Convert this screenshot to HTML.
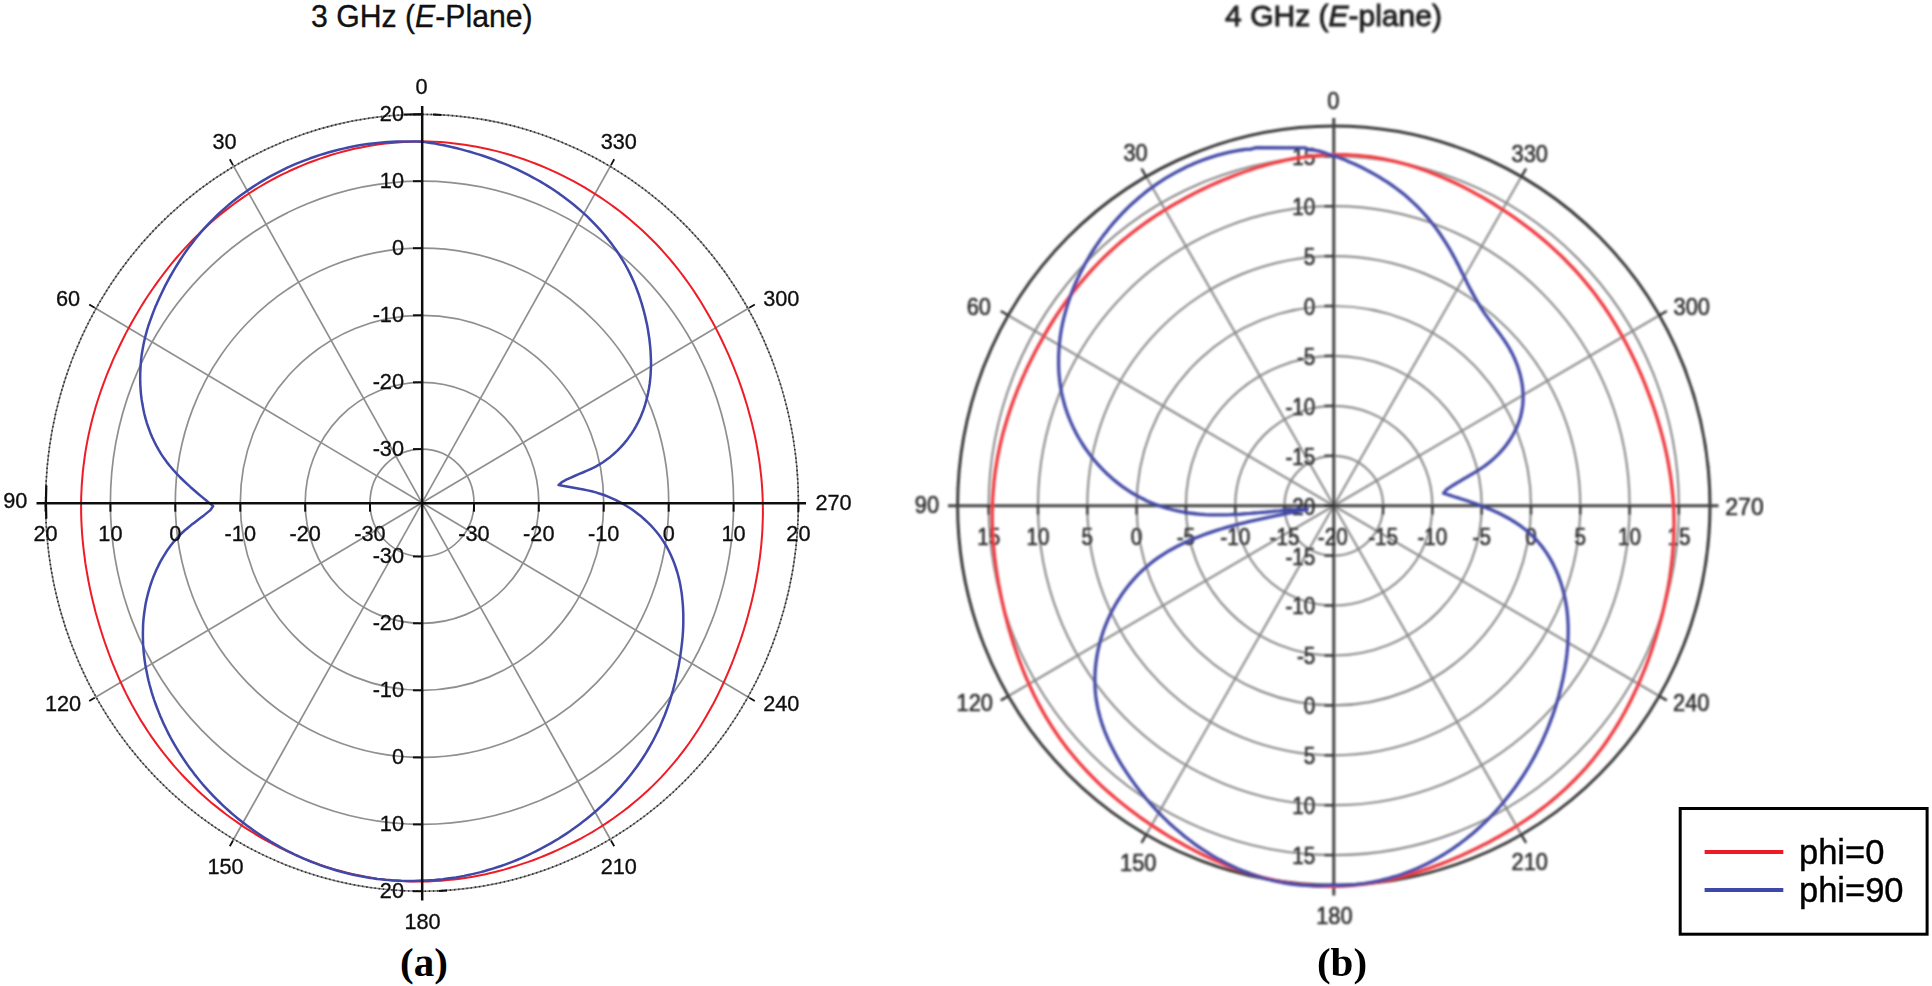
<!DOCTYPE html>
<html lang="en"><head><meta charset="utf-8"><title>Radiation patterns</title>
<style>html,body{margin:0;padding:0;background:#fff;overflow:hidden}svg{display:block}</style></head>
<body>
<svg width="1932" height="986" viewBox="0 0 1932 986">
<defs><filter id="bl" x="-2%" y="-2%" width="104%" height="104%"><feGaussianBlur stdDeviation="1.0"/></filter><filter id="bs" x="-2%" y="-2%" width="104%" height="104%"><feGaussianBlur stdDeviation="0.35"/></filter><clipPath id="rc"><rect x="890" y="0" width="874" height="986"/></clipPath></defs>
<rect width="1932" height="986" fill="#fff"/>
<g filter="url(#bs)">
<line x1="422.0" y1="502.8" x2="233.0" y2="165.1" stroke="#8f8f8f" stroke-width="1.7"/>
<line x1="233.0" y1="165.1" x2="229.8" y2="159.3" stroke="#111" stroke-width="1.8"/>
<line x1="422.0" y1="502.8" x2="94.7" y2="307.8" stroke="#8f8f8f" stroke-width="1.7"/>
<line x1="94.7" y1="307.8" x2="89.2" y2="304.5" stroke="#111" stroke-width="1.8"/>
<line x1="422.0" y1="502.8" x2="94.7" y2="697.8" stroke="#8f8f8f" stroke-width="1.7"/>
<line x1="94.7" y1="697.8" x2="89.2" y2="701.1" stroke="#111" stroke-width="1.8"/>
<line x1="422.0" y1="502.8" x2="233.0" y2="840.5" stroke="#8f8f8f" stroke-width="1.7"/>
<line x1="233.0" y1="840.5" x2="229.8" y2="846.3" stroke="#111" stroke-width="1.8"/>
<line x1="422.0" y1="502.8" x2="611.0" y2="840.5" stroke="#8f8f8f" stroke-width="1.7"/>
<line x1="611.0" y1="840.5" x2="614.2" y2="846.3" stroke="#111" stroke-width="1.8"/>
<line x1="422.0" y1="502.8" x2="749.3" y2="697.8" stroke="#8f8f8f" stroke-width="1.7"/>
<line x1="749.3" y1="697.8" x2="754.8" y2="701.1" stroke="#111" stroke-width="1.8"/>
<line x1="422.0" y1="502.8" x2="749.3" y2="307.8" stroke="#8f8f8f" stroke-width="1.7"/>
<line x1="749.3" y1="307.8" x2="754.8" y2="304.5" stroke="#111" stroke-width="1.8"/>
<line x1="422.0" y1="502.8" x2="611.0" y2="165.1" stroke="#8f8f8f" stroke-width="1.7"/>
<line x1="611.0" y1="165.1" x2="614.2" y2="159.3" stroke="#111" stroke-width="1.8"/>
<ellipse cx="422.0" cy="502.8" rx="311.6" ry="321.6" fill="none" stroke="#8f8f8f" stroke-width="1.7"/>
<ellipse cx="422.0" cy="502.8" rx="246.7" ry="254.6" fill="none" stroke="#8f8f8f" stroke-width="1.7"/>
<ellipse cx="422.0" cy="502.8" rx="181.7" ry="187.5" fill="none" stroke="#8f8f8f" stroke-width="1.7"/>
<ellipse cx="422.0" cy="502.8" rx="116.8" ry="120.5" fill="none" stroke="#8f8f8f" stroke-width="1.7"/>
<ellipse cx="422.0" cy="502.8" rx="52.0" ry="53.7" fill="none" stroke="#8f8f8f" stroke-width="1.7"/>
<ellipse cx="422.0" cy="502.8" rx="376.4" ry="388.4" fill="none" stroke="#8a8a8a" stroke-width="1.6"/>
<ellipse cx="422.0" cy="502.8" rx="376.4" ry="388.4" fill="none" stroke="#2a2a2a" stroke-width="1.6" stroke-dasharray="1.4 2.8"/>
<path d="M46.3,485.5 Q45.6,502 46.3,518.5" fill="none" stroke="#111" stroke-width="2.2"/>
<path d="M404,114.6 L422,114.3 M433,114.5 L441.5,114.9 M439,891 L447,890.6" fill="none" stroke="#111" stroke-width="2"/>
<path d="M422.0,141.5 L428.1,141.6 L434.2,141.8 L440.3,142.1 L446.4,142.6 L452.5,143.2 L458.6,143.9 L464.6,144.7 L470.6,145.7 L476.6,146.7 L482.6,147.9 L488.6,149.2 L494.5,150.6 L500.4,152.1 L506.3,153.8 L512.2,155.5 L518.0,157.4 L523.8,159.3 L529.5,161.4 L535.2,163.5 L540.9,165.8 L546.5,168.2 L552.0,170.6 L557.6,173.2 L563.1,175.8 L568.5,178.6 L573.9,181.4 L579.2,184.4 L584.5,187.4 L589.7,190.6 L594.9,193.8 L600.0,197.1 L605.0,200.5 L610.0,204.0 L614.9,207.6 L619.8,211.3 L624.6,215.1 L629.3,218.9 L633.9,222.9 L638.5,226.9 L643.0,231.0 L647.4,235.2 L651.7,239.5 L656.0,243.8 L660.2,248.3 L664.3,252.8 L668.3,257.4 L672.2,262.0 L676.0,266.7 L679.8,271.5 L683.5,276.4 L687.1,281.3 L690.6,286.3 L694.0,291.3 L697.3,296.4 L700.6,301.5 L703.7,306.7 L706.8,311.9 L709.8,317.2 L712.8,322.5 L715.6,327.9 L718.4,333.3 L721.1,338.7 L723.7,344.2 L726.2,349.7 L728.7,355.2 L731.1,360.8 L733.4,366.4 L735.6,372.0 L737.8,377.7 L739.9,383.4 L741.9,389.1 L743.8,394.9 L745.6,400.7 L747.4,406.5 L749.0,412.4 L750.6,418.2 L752.1,424.1 L753.5,430.1 L754.9,436.0 L756.1,442.0 L757.2,448.0 L758.2,454.0 L759.2,460.1 L760.0,466.1 L760.7,472.2 L761.4,478.3 L761.9,484.4 L762.3,490.5 L762.6,496.7 L762.8,502.8 L762.9,508.9 L762.9,515.1 L762.7,521.2 L762.5,527.4 L762.2,533.5 L761.7,539.6 L761.2,545.8 L760.5,551.9 L759.8,558.0 L758.9,564.1 L758.0,570.2 L756.9,576.3 L755.8,582.3 L754.6,588.4 L753.3,594.4 L751.9,600.4 L750.4,606.4 L748.8,612.4 L747.2,618.4 L745.5,624.3 L743.7,630.2 L741.8,636.1 L739.8,642.0 L737.7,647.9 L735.6,653.7 L733.4,659.5 L731.1,665.3 L728.7,671.1 L726.2,676.8 L723.7,682.5 L721.0,688.2 L718.3,693.9 L715.5,699.5 L712.6,705.1 L709.5,710.6 L706.4,716.1 L703.2,721.5 L699.9,726.9 L696.5,732.2 L693.0,737.5 L689.4,742.7 L685.7,747.8 L681.9,752.9 L678.0,757.9 L673.9,762.8 L669.8,767.6 L665.6,772.4 L661.3,777.1 L656.9,781.6 L652.4,786.1 L647.8,790.5 L643.1,794.8 L638.3,799.0 L633.4,803.1 L628.5,807.1 L623.4,811.0 L618.3,814.8 L613.2,818.5 L607.9,822.1 L602.6,825.6 L597.2,829.0 L591.8,832.3 L586.2,835.5 L580.7,838.6 L575.1,841.5 L569.4,844.4 L563.7,847.2 L557.9,849.9 L552.1,852.5 L546.2,855.0 L540.3,857.4 L534.4,859.7 L528.4,861.9 L522.3,863.9 L516.3,865.9 L510.2,867.8 L504.0,869.6 L497.9,871.2 L491.7,872.7 L485.5,874.2 L479.2,875.5 L472.9,876.7 L466.6,877.7 L460.3,878.7 L453.9,879.5 L447.6,880.1 L441.2,880.7 L434.8,881.1 L428.4,881.4 L422.0,881.5 L415.6,881.5 L409.2,881.4 L402.8,881.1 L396.4,880.7 L390.0,880.2 L383.6,879.5 L377.3,878.7 L370.9,877.7 L364.6,876.6 L358.3,875.3 L352.1,874.0 L345.9,872.5 L339.7,870.8 L333.5,869.1 L327.4,867.2 L321.3,865.1 L315.3,863.0 L309.3,860.8 L303.4,858.4 L297.5,855.9 L291.6,853.3 L285.8,850.6 L280.1,847.8 L274.4,844.9 L268.8,841.9 L263.2,838.8 L257.7,835.6 L252.3,832.2 L246.9,828.8 L241.6,825.3 L236.3,821.7 L231.1,818.0 L226.0,814.3 L221.0,810.4 L216.0,806.4 L211.1,802.4 L206.3,798.2 L201.5,794.0 L196.9,789.7 L192.3,785.3 L187.8,780.8 L183.4,776.2 L179.1,771.6 L174.9,766.9 L170.8,762.0 L166.8,757.2 L162.8,752.2 L159.0,747.2 L155.3,742.1 L151.6,736.9 L148.1,731.7 L144.7,726.4 L141.3,721.1 L138.1,715.7 L135.0,710.2 L131.9,704.7 L129.0,699.2 L126.1,693.6 L123.4,688.0 L120.7,682.3 L118.2,676.6 L115.7,670.9 L113.3,665.1 L111.0,659.3 L108.8,653.5 L106.7,647.7 L104.6,641.8 L102.7,636.0 L100.8,630.0 L99.0,624.1 L97.3,618.2 L95.6,612.2 L94.1,606.3 L92.6,600.3 L91.2,594.3 L89.9,588.2 L88.7,582.2 L87.6,576.2 L86.5,570.1 L85.5,564.0 L84.7,557.9 L83.9,551.8 L83.2,545.7 L82.6,539.6 L82.1,533.5 L81.7,527.4 L81.4,521.2 L81.2,515.1 L81.1,508.9 L81.1,502.8 L81.2,496.7 L81.5,490.5 L81.8,484.4 L82.3,478.3 L82.8,472.2 L83.5,466.1 L84.3,460.0 L85.1,453.9 L86.1,447.9 L87.2,441.9 L88.4,435.9 L89.7,429.9 L91.1,424.0 L92.6,418.1 L94.2,412.2 L95.9,406.3 L97.7,400.5 L99.6,394.7 L101.6,388.9 L103.7,383.2 L105.8,377.5 L108.0,371.9 L110.4,366.3 L112.7,360.7 L115.2,355.2 L117.8,349.7 L120.4,344.2 L123.1,338.8 L125.8,333.4 L128.7,328.0 L131.6,322.7 L134.6,317.5 L137.7,312.2 L140.8,307.1 L144.0,301.9 L147.3,296.8 L150.7,291.8 L154.1,286.8 L157.6,281.9 L161.2,277.0 L164.9,272.1 L168.6,267.3 L172.4,262.6 L176.3,258.0 L180.3,253.4 L184.3,248.8 L188.5,244.4 L192.7,240.0 L197.0,235.6 L201.3,231.4 L205.8,227.2 L210.3,223.1 L214.9,219.1 L219.5,215.2 L224.3,211.4 L229.1,207.6 L233.9,204.0 L238.9,200.4 L243.9,196.9 L249.0,193.5 L254.1,190.2 L259.3,187.0 L264.6,183.9 L269.9,180.9 L275.3,178.0 L280.7,175.2 L286.2,172.6 L291.7,170.0 L297.3,167.5 L302.9,165.1 L308.6,162.8 L314.3,160.7 L320.0,158.6 L325.8,156.7 L331.7,154.8 L337.5,153.1 L343.4,151.5 L349.3,150.0 L355.3,148.6 L361.3,147.4 L367.3,146.2 L373.3,145.2 L379.4,144.3 L385.4,143.6 L391.5,142.9 L397.6,142.4 L403.7,142.0 L409.8,141.7 L415.9,141.5Z" fill="none" stroke="#ee1c25" stroke-width="2.0"/>
<path d="M421.7,141.8 L416.8,141.6 L411.9,141.4 L407.0,141.4 L402.0,141.4 L397.1,141.5 L392.2,141.8 L387.3,142.1 L382.3,142.4 L377.4,142.9 L372.5,143.5 L367.6,144.1 L362.7,144.8 L357.9,145.6 L353.0,146.5 L348.2,147.5 L343.3,148.6 L338.5,149.7 L333.7,151.0 L329.0,152.3 L324.2,153.7 L319.5,155.1 L314.8,156.7 L310.2,158.3 L305.5,160.1 L300.9,161.9 L296.4,163.7 L291.8,165.7 L287.3,167.7 L282.9,169.9 L278.5,172.1 L274.1,174.3 L269.7,176.7 L265.5,179.1 L261.2,181.6 L257.0,184.2 L252.9,186.9 L248.8,189.6 L244.8,192.4 L240.8,195.3 L236.9,198.3 L233.0,201.3 L229.2,204.4 L225.5,207.6 L221.8,210.9 L218.2,214.2 L214.7,217.6 L211.2,221.1 L207.8,224.6 L204.5,228.2 L201.2,231.9 L198.0,235.7 L194.9,239.5 L191.9,243.4 L188.9,247.3 L186.0,251.3 L183.2,255.4 L180.5,259.5 L177.8,263.7 L175.2,267.9 L172.7,272.2 L170.2,276.5 L167.8,280.8 L165.5,285.2 L163.3,289.6 L161.2,294.0 L159.1,298.5 L157.1,303.0 L155.1,307.6 L153.3,312.1 L151.6,316.7 L149.9,321.4 L148.3,326.0 L146.9,330.7 L145.6,335.5 L144.4,340.2 L143.4,345.0 L142.5,349.9 L141.7,354.8 L141.1,359.7 L140.7,364.6 L140.4,369.6 L140.2,374.5 L140.2,379.5 L140.3,384.4 L140.6,389.4 L141.0,394.3 L141.6,399.2 L142.4,404.1 L143.3,408.9 L144.3,413.7 L145.5,418.4 L146.9,423.1 L148.5,427.8 L150.2,432.4 L152.1,436.9 L154.1,441.3 L156.3,445.6 L158.7,449.9 L161.2,454.1 L163.9,458.1 L166.8,462.1 L169.9,466.0 L173.1,469.7 L176.4,473.4 L179.8,477.0 L183.4,480.5 L187.0,483.9 L190.6,487.2 L194.4,490.5 L198.1,493.7 L201.9,496.9 L205.7,500.0 L209.5,503.1 L213.2,506.1 L210.1,510.4 L207.0,512.9 L203.9,515.4 L200.7,517.8 L197.5,520.2 L194.3,522.7 L191.1,525.1 L188.0,527.7 L184.9,530.3 L181.9,533.0 L179.0,535.9 L176.3,538.9 L173.6,541.9 L171.1,545.1 L168.6,548.4 L166.3,551.8 L164.1,555.3 L162.0,558.8 L160.0,562.4 L158.2,566.1 L156.4,569.8 L154.8,573.5 L153.2,577.3 L151.8,581.2 L150.5,585.0 L149.3,588.9 L148.2,592.8 L147.2,596.7 L146.3,600.6 L145.5,604.5 L144.9,608.5 L144.3,612.5 L143.8,616.4 L143.4,620.4 L143.1,624.4 L143.0,628.4 L142.9,632.5 L142.9,636.5 L143.0,640.5 L143.1,644.5 L143.4,648.5 L143.7,652.6 L144.2,656.6 L144.7,660.6 L145.3,664.6 L146.0,668.6 L146.8,672.6 L147.6,676.5 L148.5,680.5 L149.5,684.5 L150.6,688.4 L151.7,692.3 L152.9,696.2 L154.2,700.1 L155.6,704.0 L157.0,707.8 L158.5,711.6 L160.0,715.4 L161.6,719.1 L163.3,722.9 L165.0,726.6 L166.8,730.3 L168.6,733.9 L170.5,737.5 L172.5,741.1 L174.5,744.6 L176.6,748.1 L178.7,751.6 L180.9,755.0 L183.1,758.4 L185.4,761.8 L187.7,765.1 L190.1,768.4 L192.5,771.6 L195.0,774.9 L197.5,778.0 L200.1,781.2 L202.7,784.3 L205.4,787.3 L208.1,790.3 L210.9,793.3 L213.7,796.3 L216.5,799.2 L219.4,802.0 L222.3,804.8 L225.3,807.6 L228.3,810.3 L231.3,813.0 L234.4,815.6 L237.5,818.2 L240.7,820.8 L243.9,823.3 L247.1,825.7 L250.4,828.1 L253.7,830.5 L257.0,832.8 L260.4,835.1 L263.8,837.3 L267.2,839.4 L270.7,841.6 L274.2,843.6 L277.7,845.6 L281.2,847.6 L284.8,849.5 L288.4,851.4 L292.1,853.2 L295.7,855.0 L299.4,856.7 L303.1,858.3 L306.8,859.9 L310.6,861.5 L314.3,862.9 L318.1,864.4 L321.9,865.8 L325.8,867.1 L329.6,868.3 L333.5,869.5 L337.4,870.7 L341.3,871.8 L345.2,872.8 L349.1,873.8 L353.1,874.7 L357.0,875.5 L361.0,876.3 L365.0,877.1 L369.0,877.7 L373.0,878.3 L377.0,878.9 L381.1,879.3 L385.1,879.8 L389.2,880.1 L393.2,880.4 L397.3,880.6 L401.3,880.8 L405.4,880.9 L409.5,880.9 L413.6,880.9 L417.6,880.7 L421.7,880.6 L425.9,880.6 L430.2,880.3 L434.5,880.0 L438.8,879.6 L443.0,879.2 L447.3,878.6 L451.5,878.0 L455.7,877.4 L459.9,876.7 L464.1,875.9 L468.3,875.0 L472.4,874.1 L476.6,873.1 L480.7,872.1 L484.8,871.0 L488.9,869.8 L492.9,868.6 L497.0,867.3 L501.0,866.0 L505.0,864.6 L509.0,863.1 L512.9,861.6 L516.9,860.0 L520.8,858.3 L524.7,856.6 L528.5,854.9 L532.4,853.0 L536.2,851.1 L540.0,849.2 L543.7,847.2 L547.4,845.2 L551.1,843.1 L554.8,840.9 L558.5,838.7 L562.1,836.4 L565.7,834.1 L569.2,831.7 L572.7,829.2 L576.2,826.7 L579.7,824.2 L583.1,821.6 L586.5,818.9 L589.8,816.2 L593.1,813.5 L596.4,810.7 L599.6,807.8 L602.8,804.9 L605.9,802.0 L609.0,799.0 L612.0,795.9 L615.0,792.9 L617.9,789.7 L620.8,786.6 L623.6,783.3 L626.4,780.1 L629.1,776.8 L631.7,773.5 L634.3,770.1 L636.8,766.7 L639.2,763.2 L641.6,759.7 L643.9,756.2 L646.2,752.6 L648.3,749.0 L650.4,745.4 L652.5,741.7 L654.4,738.0 L656.3,734.3 L658.1,730.6 L659.9,726.8 L661.5,722.9 L663.1,719.1 L664.7,715.2 L666.2,711.2 L667.6,707.3 L669.0,703.3 L670.3,699.3 L671.5,695.2 L672.7,691.1 L673.8,687.0 L674.9,682.9 L675.9,678.7 L676.8,674.5 L677.7,670.2 L678.6,666.0 L679.3,661.7 L680.1,657.4 L680.7,653.1 L681.3,648.7 L681.8,644.4 L682.3,640.0 L682.7,635.6 L683.0,631.3 L683.2,626.9 L683.3,622.6 L683.3,618.2 L683.3,613.9 L683.1,609.6 L682.9,605.3 L682.5,601.0 L682.1,596.8 L681.6,592.6 L680.9,588.4 L680.2,584.2 L679.3,580.1 L678.3,576.0 L677.2,572.0 L675.9,568.0 L674.6,564.1 L673.1,560.3 L671.5,556.5 L669.8,552.7 L667.9,549.0 L665.9,545.4 L663.7,541.9 L661.4,538.4 L659.0,535.0 L656.4,531.7 L653.6,528.5 L650.8,525.4 L647.7,522.4 L644.6,519.5 L641.4,516.6 L638.0,513.9 L634.5,511.3 L631.0,508.8 L627.3,506.5 L623.6,504.2 L619.8,502.1 L615.9,500.1 L612.0,498.3 L608.0,496.6 L604.0,495.0 L599.9,493.7 L595.8,492.4 L591.7,491.3 L587.6,490.4 L583.4,489.5 L579.2,488.7 L575.1,487.9 L570.9,487.2 L566.8,486.5 L562.7,485.8 L558.6,485.0 L562.4,481.8 L566.3,479.7 L570.4,477.8 L574.5,476.0 L578.7,474.2 L582.8,472.5 L587.0,470.7 L591.1,468.8 L595.2,466.8 L599.1,464.6 L603.0,462.2 L606.7,459.6 L610.3,456.9 L613.7,454.0 L617.1,450.9 L620.3,447.7 L623.3,444.3 L626.2,440.9 L628.9,437.3 L631.5,433.6 L633.9,429.8 L636.2,425.9 L638.3,421.9 L640.2,417.9 L641.9,413.8 L643.5,409.7 L644.9,405.5 L646.1,401.2 L647.2,396.9 L648.2,392.5 L649.0,388.2 L649.7,383.7 L650.2,379.3 L650.6,374.8 L650.8,370.3 L651.0,365.8 L651.0,361.3 L650.8,356.7 L650.6,352.2 L650.3,347.6 L649.8,343.1 L649.3,338.5 L648.6,334.0 L647.9,329.5 L647.1,325.0 L646.1,320.6 L645.1,316.1 L644.0,311.7 L642.8,307.4 L641.6,303.1 L640.2,298.8 L638.8,294.5 L637.2,290.3 L635.6,286.1 L633.9,282.0 L632.0,277.9 L630.1,273.9 L628.1,269.9 L626.0,266.0 L623.8,262.1 L621.5,258.3 L619.1,254.5 L616.6,250.8 L614.0,247.1 L611.4,243.5 L608.6,239.9 L605.8,236.4 L602.9,233.0 L599.9,229.6 L596.9,226.3 L593.8,223.1 L590.6,219.9 L587.4,216.7 L584.1,213.6 L580.7,210.6 L577.3,207.7 L573.8,204.8 L570.3,202.0 L566.7,199.2 L563.1,196.5 L559.5,193.9 L555.7,191.3 L552.0,188.8 L548.2,186.4 L544.4,184.0 L540.5,181.7 L536.6,179.5 L532.6,177.3 L528.6,175.1 L524.6,173.1 L520.6,171.1 L516.5,169.1 L512.4,167.3 L508.2,165.4 L504.1,163.7 L499.9,162.0 L495.7,160.3 L491.4,158.8 L487.2,157.3 L482.9,155.8 L478.6,154.4 L474.3,153.1 L470.0,151.8 L465.6,150.6 L461.3,149.4 L456.9,148.3 L452.6,147.2 L448.2,146.3 L443.8,145.3 L439.4,144.5 L435.0,143.6 L430.6,142.9 L426.2,142.2 L421.8,141.5Z" fill="none" stroke="#3f48a8" stroke-width="2.5" stroke-linejoin="round"/>
<line x1="36.5" y1="503.2" x2="806" y2="503.2" stroke="#111" stroke-width="2.5"/>
<line x1="422.2" y1="106" x2="422.2" y2="900.5" stroke="#111" stroke-width="2.5"/>
<line x1="413.0" y1="114.4" x2="422.0" y2="114.4" stroke="#111" stroke-width="2"/>
<line x1="45.6" y1="503.2" x2="45.6" y2="511.7" stroke="#111" stroke-width="2"/>
<line x1="413.0" y1="891.2" x2="422.0" y2="891.2" stroke="#111" stroke-width="2"/>
<line x1="798.4" y1="503.2" x2="798.4" y2="511.7" stroke="#111" stroke-width="2"/>
<line x1="413.0" y1="181.2" x2="422.0" y2="181.2" stroke="#111" stroke-width="2"/>
<line x1="110.4" y1="503.2" x2="110.4" y2="511.7" stroke="#111" stroke-width="2"/>
<line x1="413.0" y1="824.4" x2="422.0" y2="824.4" stroke="#111" stroke-width="2"/>
<line x1="733.6" y1="503.2" x2="733.6" y2="511.7" stroke="#111" stroke-width="2"/>
<line x1="413.0" y1="248.2" x2="422.0" y2="248.2" stroke="#111" stroke-width="2"/>
<line x1="175.3" y1="503.2" x2="175.3" y2="511.7" stroke="#111" stroke-width="2"/>
<line x1="413.0" y1="757.4" x2="422.0" y2="757.4" stroke="#111" stroke-width="2"/>
<line x1="668.7" y1="503.2" x2="668.7" y2="511.7" stroke="#111" stroke-width="2"/>
<line x1="413.0" y1="315.3" x2="422.0" y2="315.3" stroke="#111" stroke-width="2"/>
<line x1="240.3" y1="503.2" x2="240.3" y2="511.7" stroke="#111" stroke-width="2"/>
<line x1="413.0" y1="690.3" x2="422.0" y2="690.3" stroke="#111" stroke-width="2"/>
<line x1="603.7" y1="503.2" x2="603.7" y2="511.7" stroke="#111" stroke-width="2"/>
<line x1="413.0" y1="382.3" x2="422.0" y2="382.3" stroke="#111" stroke-width="2"/>
<line x1="305.2" y1="503.2" x2="305.2" y2="511.7" stroke="#111" stroke-width="2"/>
<line x1="413.0" y1="623.3" x2="422.0" y2="623.3" stroke="#111" stroke-width="2"/>
<line x1="538.8" y1="503.2" x2="538.8" y2="511.7" stroke="#111" stroke-width="2"/>
<line x1="413.0" y1="449.1" x2="422.0" y2="449.1" stroke="#111" stroke-width="2"/>
<line x1="370.0" y1="503.2" x2="370.0" y2="511.7" stroke="#111" stroke-width="2"/>
<line x1="413.0" y1="556.5" x2="422.0" y2="556.5" stroke="#111" stroke-width="2"/>
<line x1="474.0" y1="503.2" x2="474.0" y2="511.7" stroke="#111" stroke-width="2"/>
<text transform="translate(404.0,121.2) scale(0.965,1)" font-size="22.5" text-anchor="end" fill="#111" stroke="#111" stroke-width="0.35" font-family="Liberation Sans, Arial, sans-serif" >20</text>
<text transform="translate(45.6,540.5) scale(0.965,1)" font-size="22.5" text-anchor="middle" fill="#111" stroke="#111" stroke-width="0.35" font-family="Liberation Sans, Arial, sans-serif" >20</text>
<text transform="translate(404.0,898.1) scale(0.965,1)" font-size="22.5" text-anchor="end" fill="#111" stroke="#111" stroke-width="0.35" font-family="Liberation Sans, Arial, sans-serif" >20</text>
<text transform="translate(798.4,540.5) scale(0.965,1)" font-size="22.5" text-anchor="middle" fill="#111" stroke="#111" stroke-width="0.35" font-family="Liberation Sans, Arial, sans-serif" >20</text>
<text transform="translate(404.0,188.1) scale(0.965,1)" font-size="22.5" text-anchor="end" fill="#111" stroke="#111" stroke-width="0.35" font-family="Liberation Sans, Arial, sans-serif" >10</text>
<text transform="translate(110.4,540.5) scale(0.965,1)" font-size="22.5" text-anchor="middle" fill="#111" stroke="#111" stroke-width="0.35" font-family="Liberation Sans, Arial, sans-serif" >10</text>
<text transform="translate(404.0,831.2) scale(0.965,1)" font-size="22.5" text-anchor="end" fill="#111" stroke="#111" stroke-width="0.35" font-family="Liberation Sans, Arial, sans-serif" >10</text>
<text transform="translate(733.6,540.5) scale(0.965,1)" font-size="22.5" text-anchor="middle" fill="#111" stroke="#111" stroke-width="0.35" font-family="Liberation Sans, Arial, sans-serif" >10</text>
<text transform="translate(404.0,255.1) scale(0.965,1)" font-size="22.5" text-anchor="end" fill="#111" stroke="#111" stroke-width="0.35" font-family="Liberation Sans, Arial, sans-serif" >0</text>
<text transform="translate(175.3,540.5) scale(0.965,1)" font-size="22.5" text-anchor="middle" fill="#111" stroke="#111" stroke-width="0.35" font-family="Liberation Sans, Arial, sans-serif" >0</text>
<text transform="translate(404.0,764.2) scale(0.965,1)" font-size="22.5" text-anchor="end" fill="#111" stroke="#111" stroke-width="0.35" font-family="Liberation Sans, Arial, sans-serif" >0</text>
<text transform="translate(668.7,540.5) scale(0.965,1)" font-size="22.5" text-anchor="middle" fill="#111" stroke="#111" stroke-width="0.35" font-family="Liberation Sans, Arial, sans-serif" >0</text>
<text transform="translate(404.0,322.1) scale(0.965,1)" font-size="22.5" text-anchor="end" fill="#111" stroke="#111" stroke-width="0.35" font-family="Liberation Sans, Arial, sans-serif" >-10</text>
<text transform="translate(240.3,540.5) scale(0.965,1)" font-size="22.5" text-anchor="middle" fill="#111" stroke="#111" stroke-width="0.35" font-family="Liberation Sans, Arial, sans-serif" >-10</text>
<text transform="translate(404.0,697.2) scale(0.965,1)" font-size="22.5" text-anchor="end" fill="#111" stroke="#111" stroke-width="0.35" font-family="Liberation Sans, Arial, sans-serif" >-10</text>
<text transform="translate(603.7,540.5) scale(0.965,1)" font-size="22.5" text-anchor="middle" fill="#111" stroke="#111" stroke-width="0.35" font-family="Liberation Sans, Arial, sans-serif" >-10</text>
<text transform="translate(404.0,389.1) scale(0.965,1)" font-size="22.5" text-anchor="end" fill="#111" stroke="#111" stroke-width="0.35" font-family="Liberation Sans, Arial, sans-serif" >-20</text>
<text transform="translate(305.2,540.5) scale(0.965,1)" font-size="22.5" text-anchor="middle" fill="#111" stroke="#111" stroke-width="0.35" font-family="Liberation Sans, Arial, sans-serif" >-20</text>
<text transform="translate(404.0,630.2) scale(0.965,1)" font-size="22.5" text-anchor="end" fill="#111" stroke="#111" stroke-width="0.35" font-family="Liberation Sans, Arial, sans-serif" >-20</text>
<text transform="translate(538.8,540.5) scale(0.965,1)" font-size="22.5" text-anchor="middle" fill="#111" stroke="#111" stroke-width="0.35" font-family="Liberation Sans, Arial, sans-serif" >-20</text>
<text transform="translate(404.0,456.0) scale(0.965,1)" font-size="22.5" text-anchor="end" fill="#111" stroke="#111" stroke-width="0.35" font-family="Liberation Sans, Arial, sans-serif" >-30</text>
<text transform="translate(370.0,540.5) scale(0.965,1)" font-size="22.5" text-anchor="middle" fill="#111" stroke="#111" stroke-width="0.35" font-family="Liberation Sans, Arial, sans-serif" >-30</text>
<text transform="translate(404.0,563.3) scale(0.965,1)" font-size="22.5" text-anchor="end" fill="#111" stroke="#111" stroke-width="0.35" font-family="Liberation Sans, Arial, sans-serif" >-30</text>
<text transform="translate(474.0,540.5) scale(0.965,1)" font-size="22.5" text-anchor="middle" fill="#111" stroke="#111" stroke-width="0.35" font-family="Liberation Sans, Arial, sans-serif" >-30</text>
<text transform="translate(421.5,93.9) scale(0.965,1)" font-size="22.5" text-anchor="middle" fill="#111" stroke="#111" stroke-width="0.35" font-family="Liberation Sans, Arial, sans-serif" >0</text>
<text transform="translate(422.5,929.2) scale(0.965,1)" font-size="22.5" text-anchor="middle" fill="#111" stroke="#111" stroke-width="0.35" font-family="Liberation Sans, Arial, sans-serif" >180</text>
<text transform="translate(15.2,508.2) scale(0.965,1)" font-size="22.5" text-anchor="middle" fill="#111" stroke="#111" stroke-width="0.35" font-family="Liberation Sans, Arial, sans-serif" >90</text>
<text transform="translate(833.5,509.7) scale(0.965,1)" font-size="22.5" text-anchor="middle" fill="#111" stroke="#111" stroke-width="0.35" font-family="Liberation Sans, Arial, sans-serif" >270</text>
<text transform="translate(224.5,149.4) scale(0.965,1)" font-size="22.5" text-anchor="middle" fill="#111" stroke="#111" stroke-width="0.35" font-family="Liberation Sans, Arial, sans-serif" >30</text>
<text transform="translate(618.8,149.4) scale(0.965,1)" font-size="22.5" text-anchor="middle" fill="#111" stroke="#111" stroke-width="0.35" font-family="Liberation Sans, Arial, sans-serif" >330</text>
<text transform="translate(68.0,305.9) scale(0.965,1)" font-size="22.5" text-anchor="middle" fill="#111" stroke="#111" stroke-width="0.35" font-family="Liberation Sans, Arial, sans-serif" >60</text>
<text transform="translate(781.3,305.9) scale(0.965,1)" font-size="22.5" text-anchor="middle" fill="#111" stroke="#111" stroke-width="0.35" font-family="Liberation Sans, Arial, sans-serif" >300</text>
<text transform="translate(63.0,711.1) scale(0.965,1)" font-size="22.5" text-anchor="middle" fill="#111" stroke="#111" stroke-width="0.35" font-family="Liberation Sans, Arial, sans-serif" >120</text>
<text transform="translate(781.3,711.1) scale(0.965,1)" font-size="22.5" text-anchor="middle" fill="#111" stroke="#111" stroke-width="0.35" font-family="Liberation Sans, Arial, sans-serif" >240</text>
<text transform="translate(225.5,874.1) scale(0.965,1)" font-size="22.5" text-anchor="middle" fill="#111" stroke="#111" stroke-width="0.35" font-family="Liberation Sans, Arial, sans-serif" >150</text>
<text transform="translate(618.8,874.1) scale(0.965,1)" font-size="22.5" text-anchor="middle" fill="#111" stroke="#111" stroke-width="0.35" font-family="Liberation Sans, Arial, sans-serif" >210</text>
</g>
<text transform="translate(421.8,26.8) scale(0.975,1)" font-size="31" text-anchor="middle" fill="#111" stroke="#111" stroke-width="0.35" font-family="Liberation Sans, Arial, sans-serif">3 GHz (<tspan font-style="italic">E</tspan>-Plane)</text>
<text x="424" y="975.6" font-size="41" font-weight="bold" text-anchor="middle" fill="#000" font-family="Liberation Serif, Times New Roman, serif">(a)</text>
<g clip-path="url(#rc)"><g filter="url(#bl)">
<line x1="1333.8" y1="505.7" x2="1145.7" y2="175.8" stroke="#8e8e8e" stroke-width="2.2"/>
<line x1="1145.7" y1="175.8" x2="1141.5" y2="168.5" stroke="#333" stroke-width="2.4"/>
<line x1="1333.8" y1="505.7" x2="1008.0" y2="315.2" stroke="#8e8e8e" stroke-width="2.2"/>
<line x1="1008.0" y1="315.2" x2="1000.8" y2="311.0" stroke="#333" stroke-width="2.4"/>
<line x1="1333.8" y1="505.7" x2="1008.0" y2="696.2" stroke="#8e8e8e" stroke-width="2.2"/>
<line x1="1008.0" y1="696.2" x2="1000.8" y2="700.4" stroke="#333" stroke-width="2.4"/>
<line x1="1333.8" y1="505.7" x2="1145.7" y2="835.6" stroke="#8e8e8e" stroke-width="2.2"/>
<line x1="1145.7" y1="835.6" x2="1141.5" y2="842.9" stroke="#333" stroke-width="2.4"/>
<line x1="1333.8" y1="505.7" x2="1521.9" y2="835.6" stroke="#8e8e8e" stroke-width="2.2"/>
<line x1="1521.9" y1="835.6" x2="1526.1" y2="842.9" stroke="#333" stroke-width="2.4"/>
<line x1="1333.8" y1="505.7" x2="1659.6" y2="696.2" stroke="#8e8e8e" stroke-width="2.2"/>
<line x1="1659.6" y1="696.2" x2="1666.8" y2="700.4" stroke="#333" stroke-width="2.4"/>
<line x1="1333.8" y1="505.7" x2="1659.6" y2="315.2" stroke="#8e8e8e" stroke-width="2.2"/>
<line x1="1659.6" y1="315.2" x2="1666.8" y2="311.0" stroke="#333" stroke-width="2.4"/>
<line x1="1333.8" y1="505.7" x2="1521.9" y2="175.8" stroke="#8e8e8e" stroke-width="2.2"/>
<line x1="1521.9" y1="175.8" x2="1526.1" y2="168.5" stroke="#333" stroke-width="2.4"/>
<ellipse cx="1333.8" cy="505.7" rx="49.3" ry="49.9" fill="none" stroke="#8e8e8e" stroke-width="2.2"/>
<ellipse cx="1333.8" cy="505.7" rx="98.6" ry="99.8" fill="none" stroke="#8e8e8e" stroke-width="2.2"/>
<ellipse cx="1333.8" cy="505.7" rx="147.9" ry="149.8" fill="none" stroke="#8e8e8e" stroke-width="2.2"/>
<ellipse cx="1333.8" cy="505.7" rx="197.2" ry="199.7" fill="none" stroke="#8e8e8e" stroke-width="2.2"/>
<ellipse cx="1333.8" cy="505.7" rx="246.5" ry="249.6" fill="none" stroke="#8e8e8e" stroke-width="2.2"/>
<ellipse cx="1333.8" cy="505.7" rx="295.8" ry="299.5" fill="none" stroke="#8e8e8e" stroke-width="2.2"/>
<ellipse cx="1333.8" cy="505.7" rx="345.1" ry="349.4" fill="none" stroke="#8e8e8e" stroke-width="2.2"/>
<ellipse cx="1333.8" cy="505.59999999999997" rx="376.2" ry="379.5" fill="none" stroke="#3a3a3a" stroke-width="3"/>
<line x1="948" y1="505.7" x2="1718.5" y2="505.7" stroke="#444" stroke-width="3"/>
<line x1="1333.8" y1="118" x2="1333.8" y2="895.5" stroke="#444" stroke-width="3"/>
<line x1="1324.3" y1="156.3" x2="1333.8" y2="156.3" stroke="#3a3a3a" stroke-width="2.4"/>
<text transform="translate(1315.3,165.1) scale(0.9,1)" font-size="23" text-anchor="end" fill="#2e2e2e" stroke="#2e2e2e" stroke-width="0.6" font-family="Liberation Sans, Arial, sans-serif" >15</text>
<line x1="988.7" y1="505.7" x2="988.7" y2="514.7" stroke="#3a3a3a" stroke-width="2.4"/>
<text transform="translate(988.7,545.0) scale(0.9,1)" font-size="23" text-anchor="middle" fill="#2e2e2e" stroke="#2e2e2e" stroke-width="0.6" font-family="Liberation Sans, Arial, sans-serif" >15</text>
<line x1="1324.3" y1="855.1" x2="1333.8" y2="855.1" stroke="#3a3a3a" stroke-width="2.4"/>
<text transform="translate(1315.3,864.0) scale(0.9,1)" font-size="23" text-anchor="end" fill="#2e2e2e" stroke="#2e2e2e" stroke-width="0.6" font-family="Liberation Sans, Arial, sans-serif" >15</text>
<line x1="1678.9" y1="505.7" x2="1678.9" y2="514.7" stroke="#3a3a3a" stroke-width="2.4"/>
<text transform="translate(1678.9,545.0) scale(0.9,1)" font-size="23" text-anchor="middle" fill="#2e2e2e" stroke="#2e2e2e" stroke-width="0.6" font-family="Liberation Sans, Arial, sans-serif" >15</text>
<line x1="1324.3" y1="206.2" x2="1333.8" y2="206.2" stroke="#3a3a3a" stroke-width="2.4"/>
<text transform="translate(1315.3,215.0) scale(0.9,1)" font-size="23" text-anchor="end" fill="#2e2e2e" stroke="#2e2e2e" stroke-width="0.6" font-family="Liberation Sans, Arial, sans-serif" >10</text>
<line x1="1038.0" y1="505.7" x2="1038.0" y2="514.7" stroke="#3a3a3a" stroke-width="2.4"/>
<text transform="translate(1038.0,545.0) scale(0.9,1)" font-size="23" text-anchor="middle" fill="#2e2e2e" stroke="#2e2e2e" stroke-width="0.6" font-family="Liberation Sans, Arial, sans-serif" >10</text>
<line x1="1324.3" y1="805.2" x2="1333.8" y2="805.2" stroke="#3a3a3a" stroke-width="2.4"/>
<text transform="translate(1315.3,814.1) scale(0.9,1)" font-size="23" text-anchor="end" fill="#2e2e2e" stroke="#2e2e2e" stroke-width="0.6" font-family="Liberation Sans, Arial, sans-serif" >10</text>
<line x1="1629.6" y1="505.7" x2="1629.6" y2="514.7" stroke="#3a3a3a" stroke-width="2.4"/>
<text transform="translate(1629.6,545.0) scale(0.9,1)" font-size="23" text-anchor="middle" fill="#2e2e2e" stroke="#2e2e2e" stroke-width="0.6" font-family="Liberation Sans, Arial, sans-serif" >10</text>
<line x1="1324.3" y1="256.1" x2="1333.8" y2="256.1" stroke="#3a3a3a" stroke-width="2.4"/>
<text transform="translate(1315.3,264.9) scale(0.9,1)" font-size="23" text-anchor="end" fill="#2e2e2e" stroke="#2e2e2e" stroke-width="0.6" font-family="Liberation Sans, Arial, sans-serif" >5</text>
<line x1="1087.3" y1="505.7" x2="1087.3" y2="514.7" stroke="#3a3a3a" stroke-width="2.4"/>
<text transform="translate(1087.3,545.0) scale(0.9,1)" font-size="23" text-anchor="middle" fill="#2e2e2e" stroke="#2e2e2e" stroke-width="0.6" font-family="Liberation Sans, Arial, sans-serif" >5</text>
<line x1="1324.3" y1="755.3" x2="1333.8" y2="755.3" stroke="#3a3a3a" stroke-width="2.4"/>
<text transform="translate(1315.3,764.1) scale(0.9,1)" font-size="23" text-anchor="end" fill="#2e2e2e" stroke="#2e2e2e" stroke-width="0.6" font-family="Liberation Sans, Arial, sans-serif" >5</text>
<line x1="1580.3" y1="505.7" x2="1580.3" y2="514.7" stroke="#3a3a3a" stroke-width="2.4"/>
<text transform="translate(1580.3,545.0) scale(0.9,1)" font-size="23" text-anchor="middle" fill="#2e2e2e" stroke="#2e2e2e" stroke-width="0.6" font-family="Liberation Sans, Arial, sans-serif" >5</text>
<line x1="1324.3" y1="306.0" x2="1333.8" y2="306.0" stroke="#3a3a3a" stroke-width="2.4"/>
<text transform="translate(1315.3,314.9) scale(0.9,1)" font-size="23" text-anchor="end" fill="#2e2e2e" stroke="#2e2e2e" stroke-width="0.6" font-family="Liberation Sans, Arial, sans-serif" >0</text>
<line x1="1136.6" y1="505.7" x2="1136.6" y2="514.7" stroke="#3a3a3a" stroke-width="2.4"/>
<text transform="translate(1136.6,545.0) scale(0.9,1)" font-size="23" text-anchor="middle" fill="#2e2e2e" stroke="#2e2e2e" stroke-width="0.6" font-family="Liberation Sans, Arial, sans-serif" >0</text>
<line x1="1324.3" y1="705.4" x2="1333.8" y2="705.4" stroke="#3a3a3a" stroke-width="2.4"/>
<text transform="translate(1315.3,714.2) scale(0.9,1)" font-size="23" text-anchor="end" fill="#2e2e2e" stroke="#2e2e2e" stroke-width="0.6" font-family="Liberation Sans, Arial, sans-serif" >0</text>
<line x1="1531.0" y1="505.7" x2="1531.0" y2="514.7" stroke="#3a3a3a" stroke-width="2.4"/>
<text transform="translate(1531.0,545.0) scale(0.9,1)" font-size="23" text-anchor="middle" fill="#2e2e2e" stroke="#2e2e2e" stroke-width="0.6" font-family="Liberation Sans, Arial, sans-serif" >0</text>
<line x1="1324.3" y1="355.9" x2="1333.8" y2="355.9" stroke="#3a3a3a" stroke-width="2.4"/>
<text transform="translate(1315.3,364.8) scale(0.9,1)" font-size="23" text-anchor="end" fill="#2e2e2e" stroke="#2e2e2e" stroke-width="0.6" font-family="Liberation Sans, Arial, sans-serif" >-5</text>
<line x1="1185.9" y1="505.7" x2="1185.9" y2="514.7" stroke="#3a3a3a" stroke-width="2.4"/>
<text transform="translate(1185.9,545.0) scale(0.9,1)" font-size="23" text-anchor="middle" fill="#2e2e2e" stroke="#2e2e2e" stroke-width="0.6" font-family="Liberation Sans, Arial, sans-serif" >-5</text>
<line x1="1324.3" y1="655.5" x2="1333.8" y2="655.5" stroke="#3a3a3a" stroke-width="2.4"/>
<text transform="translate(1315.3,664.3) scale(0.9,1)" font-size="23" text-anchor="end" fill="#2e2e2e" stroke="#2e2e2e" stroke-width="0.6" font-family="Liberation Sans, Arial, sans-serif" >-5</text>
<line x1="1481.7" y1="505.7" x2="1481.7" y2="514.7" stroke="#3a3a3a" stroke-width="2.4"/>
<text transform="translate(1481.7,545.0) scale(0.9,1)" font-size="23" text-anchor="middle" fill="#2e2e2e" stroke="#2e2e2e" stroke-width="0.6" font-family="Liberation Sans, Arial, sans-serif" >-5</text>
<line x1="1324.3" y1="405.9" x2="1333.8" y2="405.9" stroke="#3a3a3a" stroke-width="2.4"/>
<text transform="translate(1315.3,414.7) scale(0.9,1)" font-size="23" text-anchor="end" fill="#2e2e2e" stroke="#2e2e2e" stroke-width="0.6" font-family="Liberation Sans, Arial, sans-serif" >-10</text>
<line x1="1235.2" y1="505.7" x2="1235.2" y2="514.7" stroke="#3a3a3a" stroke-width="2.4"/>
<text transform="translate(1235.2,545.0) scale(0.9,1)" font-size="23" text-anchor="middle" fill="#2e2e2e" stroke="#2e2e2e" stroke-width="0.6" font-family="Liberation Sans, Arial, sans-serif" >-10</text>
<line x1="1324.3" y1="605.5" x2="1333.8" y2="605.5" stroke="#3a3a3a" stroke-width="2.4"/>
<text transform="translate(1315.3,614.4) scale(0.9,1)" font-size="23" text-anchor="end" fill="#2e2e2e" stroke="#2e2e2e" stroke-width="0.6" font-family="Liberation Sans, Arial, sans-serif" >-10</text>
<line x1="1432.4" y1="505.7" x2="1432.4" y2="514.7" stroke="#3a3a3a" stroke-width="2.4"/>
<text transform="translate(1432.4,545.0) scale(0.9,1)" font-size="23" text-anchor="middle" fill="#2e2e2e" stroke="#2e2e2e" stroke-width="0.6" font-family="Liberation Sans, Arial, sans-serif" >-10</text>
<line x1="1324.3" y1="455.8" x2="1333.8" y2="455.8" stroke="#3a3a3a" stroke-width="2.4"/>
<text transform="translate(1315.3,464.6) scale(0.9,1)" font-size="23" text-anchor="end" fill="#2e2e2e" stroke="#2e2e2e" stroke-width="0.6" font-family="Liberation Sans, Arial, sans-serif" >-15</text>
<line x1="1284.5" y1="505.7" x2="1284.5" y2="514.7" stroke="#3a3a3a" stroke-width="2.4"/>
<text transform="translate(1284.5,545.0) scale(0.9,1)" font-size="23" text-anchor="middle" fill="#2e2e2e" stroke="#2e2e2e" stroke-width="0.6" font-family="Liberation Sans, Arial, sans-serif" >-15</text>
<line x1="1324.3" y1="555.6" x2="1333.8" y2="555.6" stroke="#3a3a3a" stroke-width="2.4"/>
<text transform="translate(1315.3,564.5) scale(0.9,1)" font-size="23" text-anchor="end" fill="#2e2e2e" stroke="#2e2e2e" stroke-width="0.6" font-family="Liberation Sans, Arial, sans-serif" >-15</text>
<line x1="1383.1" y1="505.7" x2="1383.1" y2="514.7" stroke="#3a3a3a" stroke-width="2.4"/>
<text transform="translate(1383.1,545.0) scale(0.9,1)" font-size="23" text-anchor="middle" fill="#2e2e2e" stroke="#2e2e2e" stroke-width="0.6" font-family="Liberation Sans, Arial, sans-serif" >-15</text>
<line x1="1324.3" y1="505.7" x2="1333.8" y2="505.7" stroke="#222" stroke-width="2.4"/>
<text transform="translate(1315.3,514.5) scale(0.9,1)" font-size="23" text-anchor="end" fill="#2e2e2e" stroke="#2e2e2e" stroke-width="0.6" font-family="Liberation Sans, Arial, sans-serif" >-20</text>
<text transform="translate(1332.8,545.0) scale(0.9,1)" font-size="23" text-anchor="middle" fill="#2e2e2e" stroke="#2e2e2e" stroke-width="0.6" font-family="Liberation Sans, Arial, sans-serif" >-20</text>
<path d="M1333.8,154.7 L1339.9,154.7 L1345.9,154.8 L1351.9,155.1 L1358.0,155.5 L1364.0,156.1 L1370.0,156.8 L1376.0,157.7 L1382.0,158.7 L1387.9,159.9 L1393.8,161.2 L1399.7,162.6 L1405.5,164.2 L1411.3,165.9 L1417.0,167.7 L1422.7,169.7 L1428.4,171.7 L1434.0,173.9 L1439.6,176.1 L1445.1,178.5 L1450.5,180.9 L1456.0,183.4 L1461.3,186.1 L1466.7,188.8 L1471.9,191.5 L1477.2,194.4 L1482.4,197.3 L1487.5,200.3 L1492.6,203.3 L1497.6,206.5 L1502.6,209.6 L1507.5,212.9 L1512.4,216.2 L1517.3,219.6 L1522.1,223.1 L1526.8,226.6 L1531.5,230.2 L1536.1,233.8 L1540.7,237.6 L1545.2,241.4 L1549.6,245.2 L1554.0,249.2 L1558.3,253.2 L1562.6,257.3 L1566.7,261.5 L1570.8,265.7 L1574.9,270.0 L1578.8,274.4 L1582.7,278.8 L1586.4,283.3 L1590.1,287.9 L1593.8,292.5 L1597.3,297.2 L1600.7,302.0 L1604.1,306.8 L1607.4,311.7 L1610.6,316.7 L1613.7,321.6 L1616.7,326.7 L1619.7,331.8 L1622.6,336.9 L1625.4,342.0 L1628.1,347.2 L1630.8,352.5 L1633.3,357.8 L1635.9,363.1 L1638.3,368.4 L1640.7,373.8 L1643.0,379.2 L1645.2,384.7 L1647.3,390.1 L1649.4,395.7 L1651.4,401.2 L1653.4,406.8 L1655.3,412.4 L1657.1,418.0 L1658.8,423.7 L1660.4,429.3 L1662.0,435.1 L1663.5,440.8 L1664.9,446.6 L1666.2,452.4 L1667.4,458.2 L1668.5,464.1 L1669.5,470.0 L1670.5,475.9 L1671.3,481.8 L1672.0,487.8 L1672.6,493.7 L1673.1,499.7 L1673.5,505.7 L1673.8,511.7 L1673.9,517.7 L1674.0,523.8 L1673.9,529.8 L1673.8,535.8 L1673.5,541.9 L1673.1,547.9 L1672.6,553.9 L1672.0,559.9 L1671.3,566.0 L1670.5,572.0 L1669.7,578.0 L1668.7,584.0 L1667.6,590.0 L1666.4,595.9 L1665.1,601.9 L1663.8,607.9 L1662.4,613.8 L1660.8,619.7 L1659.2,625.6 L1657.5,631.5 L1655.8,637.4 L1653.9,643.3 L1652.0,649.1 L1650.0,655.0 L1647.9,660.8 L1645.7,666.6 L1643.4,672.4 L1641.0,678.1 L1638.6,683.9 L1636.0,689.6 L1633.3,695.2 L1630.6,700.9 L1627.7,706.5 L1624.8,712.0 L1621.7,717.5 L1618.5,723.0 L1615.2,728.3 L1611.8,733.7 L1608.3,739.0 L1604.7,744.2 L1601.0,749.3 L1597.1,754.3 L1593.2,759.3 L1589.1,764.2 L1584.9,769.0 L1580.6,773.7 L1576.2,778.3 L1571.7,782.8 L1567.1,787.3 L1562.4,791.6 L1557.6,795.8 L1552.8,799.9 L1547.8,804.0 L1542.8,807.9 L1537.7,811.7 L1532.5,815.5 L1527.2,819.1 L1521.9,822.7 L1516.5,826.1 L1511.1,829.5 L1505.6,832.8 L1500.0,836.0 L1494.4,839.1 L1488.8,842.2 L1483.1,845.1 L1477.3,848.0 L1471.5,850.8 L1465.7,853.5 L1459.8,856.2 L1453.8,858.7 L1447.9,861.2 L1441.9,863.6 L1435.8,865.9 L1429.7,868.1 L1423.5,870.1 L1417.3,872.1 L1411.1,874.0 L1404.8,875.8 L1398.5,877.4 L1392.2,879.0 L1385.8,880.4 L1379.4,881.6 L1372.9,882.8 L1366.5,883.7 L1360.0,884.6 L1353.4,885.2 L1346.9,885.7 L1340.4,886.1 L1333.8,886.3 L1327.2,886.3 L1320.7,886.1 L1314.1,885.8 L1307.6,885.3 L1301.1,884.7 L1294.5,883.9 L1288.1,882.9 L1281.6,881.7 L1275.2,880.4 L1268.8,878.9 L1262.5,877.3 L1256.2,875.6 L1249.9,873.7 L1243.7,871.7 L1237.5,869.5 L1231.4,867.2 L1225.4,864.8 L1219.4,862.3 L1213.4,859.7 L1207.5,857.0 L1201.7,854.2 L1195.9,851.3 L1190.2,848.3 L1184.5,845.2 L1178.9,842.1 L1173.3,838.9 L1167.8,835.6 L1162.4,832.2 L1157.0,828.7 L1151.6,825.2 L1146.3,821.6 L1141.1,818.0 L1135.9,814.2 L1130.8,810.4 L1125.8,806.5 L1120.8,802.5 L1115.9,798.5 L1111.1,794.4 L1106.3,790.2 L1101.6,785.9 L1097.0,781.5 L1092.5,777.0 L1088.1,772.5 L1083.8,767.9 L1079.5,763.2 L1075.4,758.4 L1071.4,753.5 L1067.4,748.6 L1063.6,743.5 L1059.9,738.4 L1056.3,733.2 L1052.8,728.0 L1049.4,722.7 L1046.2,717.3 L1043.0,711.9 L1040.0,706.4 L1037.0,700.8 L1034.2,695.2 L1031.5,689.6 L1028.9,683.9 L1026.4,678.2 L1024.0,672.5 L1021.7,666.7 L1019.5,660.9 L1017.4,655.1 L1015.4,649.3 L1013.4,643.4 L1011.6,637.5 L1009.8,631.6 L1008.1,625.7 L1006.6,619.8 L1005.0,613.9 L1003.6,607.9 L1002.2,602.0 L1001.0,596.0 L999.8,590.0 L998.6,584.1 L997.6,578.1 L996.6,572.1 L995.8,566.1 L995.0,560.0 L994.3,554.0 L993.7,548.0 L993.2,541.9 L992.8,535.9 L992.5,529.9 L992.3,523.8 L992.2,517.8 L992.3,511.7 L992.4,505.7 L992.6,499.7 L993.0,493.6 L993.5,487.6 L994.0,481.6 L994.7,475.7 L995.5,469.7 L996.5,463.8 L997.5,457.8 L998.7,451.9 L999.9,446.1 L1001.3,440.2 L1002.7,434.4 L1004.3,428.7 L1006.0,422.9 L1007.7,417.2 L1009.6,411.6 L1011.5,405.9 L1013.5,400.3 L1015.6,394.8 L1017.8,389.2 L1020.1,383.8 L1022.4,378.3 L1024.9,372.9 L1027.3,367.5 L1029.9,362.2 L1032.5,356.9 L1035.2,351.7 L1038.0,346.5 L1040.9,341.3 L1043.8,336.1 L1046.7,331.1 L1049.8,326.0 L1052.9,321.0 L1056.1,316.0 L1059.4,311.1 L1062.7,306.3 L1066.1,301.5 L1069.6,296.7 L1073.2,292.0 L1076.9,287.4 L1080.6,282.8 L1084.4,278.3 L1088.3,273.9 L1092.2,269.5 L1096.3,265.2 L1100.4,260.9 L1104.6,256.8 L1108.8,252.7 L1113.2,248.7 L1117.6,244.8 L1122.1,240.9 L1126.6,237.2 L1131.2,233.5 L1135.9,229.9 L1140.6,226.3 L1145.4,222.9 L1150.3,219.5 L1155.2,216.2 L1160.1,213.0 L1165.1,209.9 L1170.2,206.8 L1175.3,203.8 L1180.4,200.9 L1185.6,198.0 L1190.8,195.2 L1196.1,192.5 L1201.4,189.9 L1206.8,187.3 L1212.2,184.8 L1217.6,182.4 L1223.1,180.0 L1228.6,177.8 L1234.1,175.6 L1239.7,173.5 L1245.4,171.5 L1251.0,169.6 L1256.7,167.7 L1262.5,166.0 L1268.3,164.4 L1274.1,162.9 L1280.0,161.5 L1285.8,160.2 L1291.8,159.0 L1297.7,158.0 L1303.7,157.1 L1309.7,156.3 L1315.7,155.7 L1321.7,155.2 L1327.8,154.9Z" fill="none" stroke="#ef3c42" stroke-width="3.4"/>
<path d="M1333.8,156.0 L1331.5,155.3 L1329.3,154.5 L1327.0,153.7 L1324.7,152.9 L1322.4,152.1 L1320.1,151.4 L1317.8,150.8 L1315.4,150.3 L1313.0,150.0 L1310.6,149.8 L1308.2,149.8 L1305.4,147.8 L1256.5,147.7 L1249.7,149.3 L1245.7,149.4 L1241.6,150.0 L1237.6,150.6 L1233.6,151.4 L1229.6,152.2 L1225.6,153.1 L1221.7,154.1 L1217.7,155.2 L1213.8,156.4 L1209.9,157.6 L1206.1,158.9 L1202.2,160.3 L1198.4,161.8 L1194.6,163.3 L1190.9,165.0 L1187.2,166.6 L1183.5,168.4 L1179.9,170.2 L1176.3,172.1 L1172.7,174.1 L1169.2,176.1 L1165.7,178.2 L1162.3,180.4 L1158.9,182.6 L1155.5,184.9 L1152.2,187.3 L1148.9,189.7 L1145.7,192.1 L1142.6,194.7 L1139.4,197.2 L1136.4,199.9 L1133.4,202.6 L1130.4,205.3 L1127.4,208.1 L1124.6,211.0 L1121.7,213.9 L1119.0,216.9 L1116.2,219.9 L1113.5,222.9 L1110.9,226.0 L1108.3,229.2 L1105.8,232.4 L1103.3,235.6 L1100.9,238.9 L1098.6,242.2 L1096.2,245.6 L1094.0,249.0 L1091.8,252.5 L1089.6,256.0 L1087.6,259.5 L1085.5,263.1 L1083.6,266.7 L1081.7,270.3 L1079.8,274.0 L1078.1,277.7 L1076.3,281.5 L1074.7,285.2 L1073.1,289.0 L1071.6,292.8 L1070.2,296.7 L1068.9,300.6 L1067.6,304.4 L1066.4,308.4 L1065.3,312.3 L1064.3,316.2 L1063.3,320.2 L1062.4,324.2 L1061.6,328.2 L1060.9,332.2 L1060.3,336.2 L1059.8,340.2 L1059.4,344.3 L1059.0,348.3 L1058.8,352.4 L1058.6,356.4 L1058.6,360.5 L1058.6,364.5 L1058.7,368.5 L1058.9,372.6 L1059.3,376.6 L1059.7,380.6 L1060.2,384.6 L1060.9,388.6 L1061.6,392.6 L1062.4,396.5 L1063.4,400.4 L1064.4,404.3 L1065.6,408.2 L1066.9,412.1 L1068.3,415.9 L1069.8,419.7 L1071.4,423.4 L1073.1,427.1 L1074.9,430.8 L1076.8,434.4 L1078.8,438.0 L1080.9,441.5 L1083.1,445.0 L1085.4,448.5 L1087.8,451.8 L1090.2,455.1 L1092.8,458.4 L1095.4,461.5 L1098.1,464.6 L1100.9,467.7 L1103.8,470.6 L1106.7,473.5 L1109.8,476.3 L1112.8,479.0 L1116.0,481.6 L1119.2,484.1 L1122.5,486.6 L1125.8,488.9 L1129.2,491.1 L1132.6,493.3 L1136.1,495.3 L1139.7,497.3 L1143.3,499.1 L1146.9,500.9 L1150.6,502.5 L1154.3,504.0 L1158.1,505.4 L1161.9,506.7 L1165.7,507.9 L1169.6,509.0 L1173.5,510.0 L1177.4,510.9 L1181.3,511.7 L1185.3,512.4 L1189.3,513.0 L1193.3,513.5 L1197.4,514.0 L1201.4,514.3 L1205.5,514.6 L1209.6,514.8 L1213.7,514.9 L1217.8,514.9 L1221.9,514.9 L1226.0,514.8 L1230.1,514.7 L1234.2,514.5 L1238.3,514.3 L1242.5,514.0 L1246.6,513.7 L1250.7,513.4 L1254.8,513.0 L1258.9,512.7 L1263.0,512.3 L1267.1,512.0 L1271.2,511.6 L1275.3,511.2 L1279.4,510.9 L1283.4,510.5 L1287.4,510.2 L1291.5,509.9 L1295.5,509.7 L1299.5,509.5 L1303.4,509.3 L1307.4,509.2 L1302.7,510.3 L1298.4,511.2 L1294.1,512.1 L1289.7,513.0 L1285.3,513.9 L1280.8,514.8 L1276.3,515.7 L1271.8,516.7 L1267.2,517.6 L1262.6,518.6 L1258.0,519.6 L1253.4,520.6 L1248.8,521.7 L1244.2,522.8 L1239.6,523.9 L1234.9,525.1 L1230.3,526.4 L1225.7,527.7 L1221.2,529.0 L1216.6,530.4 L1212.1,531.9 L1207.6,533.4 L1203.1,535.0 L1198.7,536.7 L1194.3,538.4 L1190.0,540.3 L1185.7,542.2 L1181.4,544.2 L1177.3,546.3 L1173.2,548.5 L1169.1,550.7 L1165.2,553.1 L1161.3,555.6 L1157.5,558.2 L1153.7,560.9 L1150.1,563.7 L1146.6,566.7 L1143.1,569.7 L1139.8,572.9 L1136.6,576.2 L1133.5,579.6 L1130.4,583.1 L1127.5,586.7 L1124.7,590.4 L1122.0,594.2 L1119.5,598.1 L1117.0,602.0 L1114.7,606.0 L1112.4,610.1 L1110.4,614.3 L1108.4,618.5 L1106.5,622.8 L1104.8,627.1 L1103.2,631.5 L1101.8,636.0 L1100.4,640.4 L1099.3,644.9 L1098.2,649.5 L1097.3,654.0 L1096.5,658.6 L1095.9,663.2 L1095.4,667.8 L1095.1,672.4 L1094.9,677.1 L1094.9,681.7 L1095.0,686.3 L1095.3,690.9 L1095.7,695.5 L1096.3,700.1 L1097.1,704.6 L1098.0,709.1 L1099.1,713.6 L1100.3,718.1 L1101.6,722.5 L1103.1,726.9 L1104.7,731.3 L1106.5,735.6 L1108.3,739.9 L1110.3,744.1 L1112.4,748.3 L1114.6,752.5 L1116.8,756.7 L1119.2,760.8 L1121.6,764.8 L1124.2,768.8 L1126.8,772.8 L1129.4,776.7 L1132.2,780.6 L1134.9,784.4 L1137.8,788.2 L1140.6,791.9 L1143.6,795.5 L1146.6,799.2 L1149.6,802.7 L1152.7,806.2 L1155.9,809.7 L1159.1,813.0 L1162.4,816.4 L1165.7,819.6 L1169.0,822.9 L1172.5,826.0 L1175.9,829.1 L1179.5,832.1 L1183.0,835.1 L1186.7,838.0 L1190.4,840.8 L1194.1,843.6 L1197.9,846.3 L1201.7,848.9 L1205.6,851.4 L1209.5,853.9 L1213.5,856.3 L1217.5,858.6 L1221.6,860.8 L1225.7,863.0 L1229.8,865.0 L1234.0,867.0 L1238.2,868.9 L1242.5,870.7 L1246.8,872.4 L1251.1,874.0 L1255.5,875.5 L1259.9,877.0 L1264.3,878.3 L1268.8,879.5 L1273.3,880.6 L1277.8,881.6 L1282.3,882.5 L1286.9,883.3 L1291.5,884.0 L1296.2,884.6 L1300.8,885.1 L1305.5,885.4 L1310.2,885.7 L1315.0,885.8 L1319.7,885.8 L1324.5,885.6 L1329.3,885.4 L1334.1,885.0 L1337.5,885.6 L1341.9,885.5 L1346.3,885.3 L1350.7,885.0 L1355.1,884.6 L1359.4,884.1 L1363.7,883.6 L1367.9,882.9 L1372.1,882.2 L1376.3,881.3 L1380.5,880.4 L1384.6,879.4 L1388.7,878.4 L1392.8,877.2 L1396.8,876.0 L1400.8,874.7 L1404.7,873.3 L1408.7,871.8 L1412.6,870.3 L1416.4,868.7 L1420.2,867.0 L1424.0,865.2 L1427.7,863.4 L1431.4,861.5 L1435.1,859.5 L1438.7,857.4 L1442.3,855.3 L1445.8,853.1 L1449.3,850.9 L1452.8,848.6 L1456.2,846.2 L1459.6,843.8 L1462.9,841.3 L1466.2,838.8 L1469.4,836.1 L1472.7,833.5 L1475.8,830.7 L1478.9,828.0 L1482.0,825.1 L1485.0,822.2 L1488.0,819.3 L1490.9,816.3 L1493.8,813.3 L1496.7,810.2 L1499.5,807.0 L1502.2,803.8 L1504.9,800.6 L1507.5,797.3 L1510.1,794.0 L1512.7,790.6 L1515.2,787.2 L1517.6,783.8 L1520.0,780.3 L1522.4,776.8 L1524.7,773.2 L1526.9,769.6 L1529.1,766.0 L1531.2,762.3 L1533.3,758.6 L1535.3,754.9 L1537.3,751.1 L1539.2,747.3 L1541.1,743.5 L1542.9,739.6 L1544.6,735.7 L1546.3,731.8 L1547.9,727.9 L1549.5,723.9 L1551.0,719.9 L1552.5,715.9 L1553.9,711.9 L1555.2,707.9 L1556.5,703.8 L1557.7,699.7 L1558.9,695.6 L1559.9,691.5 L1561.0,687.4 L1561.9,683.3 L1562.9,679.1 L1563.7,675.0 L1564.5,670.8 L1565.2,666.6 L1565.8,662.4 L1566.4,658.2 L1566.9,654.0 L1567.3,649.8 L1567.7,645.6 L1567.9,641.4 L1568.1,637.2 L1568.2,633.0 L1568.2,628.8 L1568.1,624.7 L1567.9,620.5 L1567.6,616.3 L1567.2,612.2 L1566.7,608.0 L1566.0,603.9 L1565.3,599.8 L1564.4,595.7 L1563.4,591.6 L1562.3,587.6 L1561.1,583.5 L1559.7,579.6 L1558.3,575.6 L1556.6,571.7 L1554.9,567.9 L1553.1,564.1 L1551.1,560.4 L1549.0,556.8 L1546.7,553.2 L1544.4,549.8 L1541.9,546.4 L1539.2,543.2 L1536.5,540.0 L1533.6,537.0 L1530.6,534.1 L1527.5,531.3 L1524.2,528.7 L1520.9,526.2 L1517.5,523.8 L1513.9,521.5 L1510.3,519.3 L1506.6,517.2 L1502.8,515.2 L1499.0,513.3 L1495.1,511.4 L1491.2,509.7 L1487.2,508.1 L1483.2,506.5 L1479.2,505.0 L1475.2,503.5 L1471.2,502.2 L1467.1,500.8 L1463.1,499.5 L1459.1,498.2 L1455.1,497.0 L1451.2,495.7 L1447.3,494.5 L1443.5,493.3 L1446.5,489.7 L1449.7,487.5 L1452.9,485.4 L1456.2,483.3 L1459.6,481.3 L1463.0,479.3 L1466.4,477.4 L1469.8,475.4 L1473.2,473.4 L1476.6,471.3 L1480.0,469.2 L1483.3,467.0 L1486.5,464.6 L1489.6,462.2 L1492.7,459.6 L1495.6,456.9 L1498.5,454.1 L1501.2,451.1 L1503.8,448.1 L1506.3,445.0 L1508.6,441.7 L1510.8,438.4 L1512.8,435.0 L1514.7,431.5 L1516.4,428.0 L1518.0,424.4 L1519.3,420.7 L1520.5,417.0 L1521.4,413.2 L1522.1,409.4 L1522.7,405.5 L1523.0,401.6 L1523.1,397.7 L1523.1,393.8 L1522.8,389.9 L1522.4,386.0 L1521.8,382.1 L1521.0,378.2 L1520.1,374.3 L1519.0,370.5 L1517.8,366.7 L1516.4,363.0 L1514.9,359.3 L1513.2,355.6 L1511.4,352.1 L1509.5,348.6 L1507.4,345.2 L1505.3,341.9 L1503.1,338.6 L1500.8,335.4 L1498.5,332.2 L1496.1,329.1 L1493.8,325.9 L1491.4,322.8 L1489.1,319.6 L1486.8,316.4 L1484.5,313.2 L1482.3,309.9 L1480.2,306.6 L1478.2,303.2 L1476.2,299.8 L1474.3,296.4 L1472.4,292.9 L1470.5,289.4 L1468.7,285.9 L1466.9,282.4 L1465.2,278.8 L1463.4,275.3 L1461.6,271.7 L1459.9,268.2 L1458.1,264.6 L1456.2,261.1 L1454.4,257.6 L1452.5,254.1 L1450.6,250.7 L1448.6,247.3 L1446.5,243.9 L1444.4,240.6 L1442.3,237.3 L1440.1,234.0 L1437.8,230.8 L1435.5,227.6 L1433.1,224.5 L1430.7,221.5 L1428.2,218.4 L1425.6,215.4 L1423.0,212.5 L1420.3,209.6 L1417.6,206.8 L1414.8,204.1 L1411.9,201.4 L1409.0,198.7 L1406.0,196.1 L1403.0,193.6 L1399.9,191.1 L1396.7,188.7 L1393.5,186.4 L1390.3,184.1 L1387.0,181.9 L1383.6,179.8 L1380.2,177.7 L1376.8,175.6 L1373.3,173.6 L1369.8,171.7 L1366.3,169.9 L1362.8,168.0 L1359.2,166.3 L1355.6,164.6 L1352.0,163.0 L1348.4,161.4 L1344.8,159.8 L1341.2,158.4 L1337.6,156.9 L1334.1,155.6Z" fill="none" stroke="#434aa6" stroke-width="3.3" stroke-linejoin="round"/>
<text transform="translate(1333.2,109.2) scale(0.95,1)" font-size="23" text-anchor="middle" fill="#2e2e2e" stroke="#2e2e2e" stroke-width="0.6" font-family="Liberation Sans, Arial, sans-serif" >0</text>
<text transform="translate(1334.4,924.0) scale(0.95,1)" font-size="23" text-anchor="middle" fill="#2e2e2e" stroke="#2e2e2e" stroke-width="0.6" font-family="Liberation Sans, Arial, sans-serif" >180</text>
<text transform="translate(927.0,513.0) scale(0.95,1)" font-size="23" text-anchor="middle" fill="#2e2e2e" stroke="#2e2e2e" stroke-width="0.6" font-family="Liberation Sans, Arial, sans-serif" >90</text>
<text x="1725.3" y="514.8" font-size="23" text-anchor="start" fill="#2e2e2e" stroke="#2e2e2e" stroke-width="0.6" font-family="Liberation Sans, Arial, sans-serif" >270</text>
<text transform="translate(1135.6,161.2) scale(0.95,1)" font-size="23" text-anchor="middle" fill="#2e2e2e" stroke="#2e2e2e" stroke-width="0.6" font-family="Liberation Sans, Arial, sans-serif" >30</text>
<text transform="translate(1529.8,161.7) scale(0.95,1)" font-size="23" text-anchor="middle" fill="#2e2e2e" stroke="#2e2e2e" stroke-width="0.6" font-family="Liberation Sans, Arial, sans-serif" >330</text>
<text transform="translate(978.8,314.9) scale(0.95,1)" font-size="23" text-anchor="middle" fill="#2e2e2e" stroke="#2e2e2e" stroke-width="0.6" font-family="Liberation Sans, Arial, sans-serif" >60</text>
<text transform="translate(1691.8,315.2) scale(0.95,1)" font-size="23" text-anchor="middle" fill="#2e2e2e" stroke="#2e2e2e" stroke-width="0.6" font-family="Liberation Sans, Arial, sans-serif" >300</text>
<text transform="translate(974.7,711.2) scale(0.95,1)" font-size="23" text-anchor="middle" fill="#2e2e2e" stroke="#2e2e2e" stroke-width="0.6" font-family="Liberation Sans, Arial, sans-serif" >120</text>
<text transform="translate(1691.3,711.2) scale(0.95,1)" font-size="23" text-anchor="middle" fill="#2e2e2e" stroke="#2e2e2e" stroke-width="0.6" font-family="Liberation Sans, Arial, sans-serif" >240</text>
<text transform="translate(1138.2,870.7) scale(0.95,1)" font-size="23" text-anchor="middle" fill="#2e2e2e" stroke="#2e2e2e" stroke-width="0.6" font-family="Liberation Sans, Arial, sans-serif" >150</text>
<text transform="translate(1529.8,870.2) scale(0.95,1)" font-size="23" text-anchor="middle" fill="#2e2e2e" stroke="#2e2e2e" stroke-width="0.6" font-family="Liberation Sans, Arial, sans-serif" >210</text>
<text x="1333.5" y="26.4" font-size="30" text-anchor="middle" fill="#1c1c1c" stroke="#1c1c1c" stroke-width="0.9" font-family="Liberation Sans, Arial, sans-serif">4 GHz (<tspan font-style="italic">E</tspan>-plane)</text>
</g></g>
<text x="1342" y="975.6" font-size="41" font-weight="bold" text-anchor="middle" fill="#000" font-family="Liberation Serif, Times New Roman, serif">(b)</text>
<rect x="1680.2" y="808.5" width="246.9" height="125.7" fill="#fff" stroke="#000" stroke-width="3"/>
<line x1="1704.6" y1="852" x2="1783.3" y2="852" stroke="#ed1c24" stroke-width="4"/>
<line x1="1704.6" y1="890.1" x2="1783.3" y2="890.1" stroke="#3f48a8" stroke-width="4"/>
<text x="1799" y="863.8" font-size="34.5" fill="#000" stroke="#000" stroke-width="0.4" font-family="Liberation Sans, Arial, sans-serif">phi=0</text>
<text x="1799" y="902" font-size="34.5" fill="#000" stroke="#000" stroke-width="0.4" font-family="Liberation Sans, Arial, sans-serif">phi=90</text>
</svg>
</body></html>
